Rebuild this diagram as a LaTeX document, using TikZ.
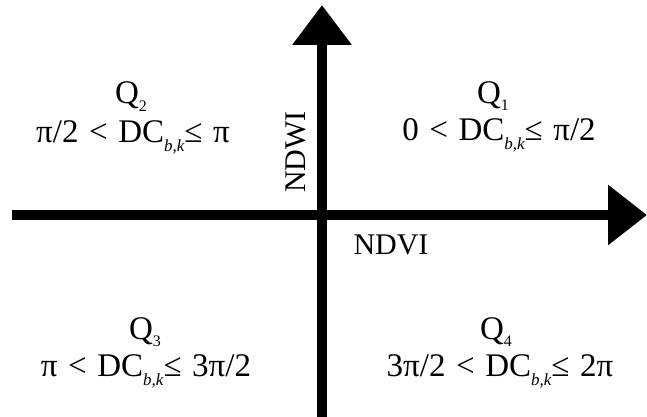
\documentclass[tikz,border=0pt]{standalone}
\usepackage{fontspec}
\setmainfont{Liberation Serif}
\usetikzlibrary{arrows.meta}
\newcommand{\dcsub}{DC\raisebox{-0.3em}{\fontsize{17pt}{17pt}\selectfont\itshape b,k}}
\newcommand{\qsub}[1]{Q\raisebox{-0.22em}{\fontsize{16pt}{16pt}\selectfont #1}}
\newcommand{\widesp}{\spaceskip=0.32em\relax}
\begin{document}
\begin{tikzpicture}[x=1pt,y=-1pt,
  axis/.style={line width=10pt,-{Triangle[length=39pt 0,width=58pt 0]}},
  lbl/.style={font=\fontsize{33pt}{36pt}\selectfont\widesp,inner sep=0pt,anchor=base},
  axlbl/.style={font=\fontsize{30pt}{34pt}\selectfont,inner sep=0pt}]
\useasboundingbox (0,0) rectangle (647,417);
\coordinate (xs) at (12,215);
\coordinate (xe) at (647,215);
\coordinate (ys) at (322,417);
\coordinate (ye) at (322,5);
\draw[axis] (xs) -- (xe);
\draw[axis,-{Triangle[length=40pt 0,width=57pt 0]}] (ys) -- (ye);
\node[axlbl,rotate=90] (ndwi) at (296,152) {NDWI};
\node[axlbl,anchor=base] (ndvi) at (391,254) {NDVI};
\node[lbl] (q1) at (493,103) {\qsub{1}};
\node[lbl] (f1) at (499,140) {0 < \dcsub≤ π/2};
\node[lbl] (q2) at (131,104) {\qsub{2}};
\node[lbl] (f2) at (133,142) {π/2 < \dcsub≤ π};
\node[lbl] (q3) at (145,339) {\qsub{3}};
\node[lbl] (f3) at (146,376) {π < \dcsub≤ 3π/2};
\node[lbl] (q4) at (496,339) {\qsub{4}};
\node[lbl] (f4) at (500,376) {3π/2 < \dcsub≤ 2π};
\end{tikzpicture}
\end{document}
